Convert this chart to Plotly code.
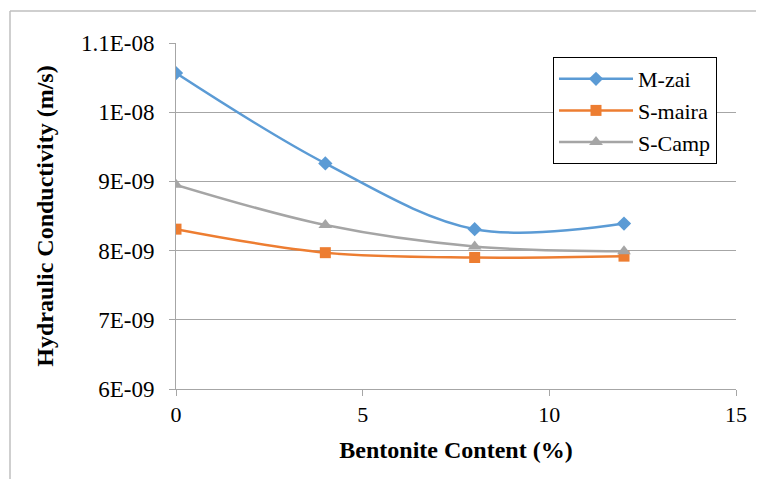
import plotly.graph_objects as go

bentonite = [0, 4, 8, 12]
m_zai = [1.0566e-8, 9.26e-9, 8.31e-9, 8.39e-9]
s_maira = [8.31e-9, 7.97e-9, 7.90e-9, 7.92e-9]
s_camp = [8.95e-9, 8.37e-9, 8.06e-9, 7.99e-9]

y_tickvals = [6e-9, 7e-9, 8e-9, 9e-9, 1e-8, 1.1e-8]
y_ticktext = ["6E-09", "7E-09", "8E-09", "9E-09", "1E-08", "1.1E-08"]
x_tickvals = [0, 5, 10, 15]

W, H = 764, 479
OFF = 8  # page body offset
L, T = 176 - OFF, 43 - OFF
pw, ph = 560, 346
R, B = W - L - pw, H - T - ph

font = "Times New Roman"

fig = go.Figure()
series = [
    ("M-zai", m_zai, "#5b9bd5", "diamond", 11),
    ("S-maira", s_maira, "#ed7d31", "square", 11),
    ("S-Camp", s_camp, "#a5a5a5", "triangle-up", 12),
]
for name, ys, col, sym, sz in series:
    fig.add_trace(go.Scatter(
        x=bentonite, y=ys, name=name, mode="lines+markers",
        line=dict(color=col, width=2.5, shape="spline", smoothing=1.0),
        marker=dict(color=col, symbol=sym, size=sz),
    ))

fig.update_layout(
    template="none",
    width=W, height=H,
    margin=dict(l=L, r=R, t=T, b=B, autoexpand=False),
    plot_bgcolor="white", paper_bgcolor="white",
    font=dict(family=font, size=20, color="black"),
    showlegend=True,
    legend=dict(
        x=(553 - 176) / pw, y=(389 - 57) / ph, xanchor="left", yanchor="top",
        bordercolor="black", borderwidth=1, bgcolor="white",
        font=dict(family=font, size=22, color="black"),
        itemwidth=74, tracegroupgap=3,
        entrywidth=110, entrywidthmode="pixels",
    ),
    xaxis=dict(
        range=[0, 15], tickvals=x_tickvals, showgrid=False, zeroline=False,
        showline=True, linecolor="#a6a6a6", linewidth=1,
        ticks="outside", ticklen=6, tickcolor="#a6a6a6",
        tickfont=dict(family=font, size=22, color="black"),
        automargin=False,
        title=dict(text="<b>Bentonite Content (%)</b>", font=dict(family=font, size=24), standoff=14),
    ),
    yaxis=dict(
        range=[6e-9, 1.1e-8], tickvals=y_tickvals, ticktext=y_ticktext,
        showgrid=True, gridcolor="#a6a6a6", gridwidth=1, zeroline=False,
        showline=True, linecolor="#a6a6a6", linewidth=1,
        ticks="outside", ticklen=6, tickcolor="#a6a6a6",
        tickfont=dict(family=font, size=23, color="black"), ticklabelstandoff=10,
        automargin=False,
        title=dict(text="<b>Hydraulic Conductivity (m/s)</b>", font=dict(family=font, size=24), standoff=20),
    ),
)

fig.add_shape(type="line", xref="paper", yref="paper",
              x0=(10 - 176) / pw, x1=(W + 20 - 176) / pw,
              y0=(389 - 11) / ph, y1=(389 - 11) / ph,
              line=dict(color="#bfbfbf", width=1.5))
fig.add_shape(type="line", xref="paper", yref="paper",
              x0=(10 - 176) / pw, x1=(10 - 176) / pw,
              y0=(389 - 11) / ph, y1=(389 - H - 20) / ph,
              line=dict(color="#bfbfbf", width=1.5))

fig.write_html("out.html")
